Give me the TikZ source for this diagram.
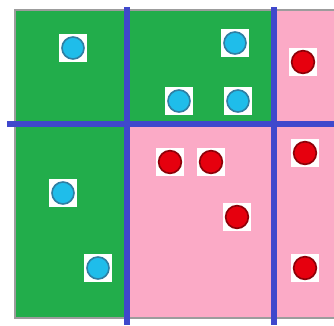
\documentclass[tikz,border=0pt]{standalone}
\usetikzlibrary{positioning}
\definecolor{FieldGreen}{HTML}{22AD4B}
\definecolor{FieldPink}{HTML}{FBAAC6}
\definecolor{SplitBlue}{HTML}{3F48CC}
\definecolor{FrameGray}{HTML}{9C9C9C}
\definecolor{SkyFill}{HTML}{1FBDEA}
\definecolor{SkyRim}{HTML}{2F7FA3}
\definecolor{RubyFill}{HTML}{E6000E}
\definecolor{RubyRim}{HTML}{8E0008}
\tikzset{
  frame/.style={draw=FrameGray, line width=1.6pt},
  split/.style={draw=SplitBlue, line width=5.8pt},
  spot/.style={rectangle, fill=white, draw=none, minimum size=0.82cm, inner sep=0pt},
  skyspot/.style={spot, path picture={
      \draw[fill=SkyFill, draw=SkyRim, line width=1.4pt]
        (path picture bounding box.center) circle (0.33cm);}},
  rubyspot/.style={spot, path picture={
      \draw[fill=RubyFill, draw=RubyRim, line width=1.4pt]
        (path picture bounding box.center) circle (0.34cm);}},
}
\begin{document}
\begin{tikzpicture}[x=0.03cm,y=-0.03cm]
  \useasboundingbox (0,0) rectangle (334,325);
  % Coloured regions
  \fill[FieldPink] (15,10) rectangle (334,318);
  \fill[FieldGreen] (15,10) rectangle (127,318);
  \fill[FieldGreen] (127,10) rectangle (274,124);
  % Outer frame, open on the right
  \draw[frame] (334,10) -- (15,10) -- (15,318) -- (334,318);
  % Splitting lines
  \draw[split] (127,7) -- (127,325);
  \draw[split] (274,7) -- (274,325);
  \draw[split] (7,124) -- (334,124);
  % Blue points
  \node[skyspot] (b1) at (73,48) {};
  \node[skyspot] (b2) at (235,43) {};
  \node[skyspot] (b3) at (179,101) {};
  \node[skyspot] (b4) at (238,101) {};
  \node[skyspot] (b5) at (63,193) {};
  \node[skyspot] (b6) at (98,268) {};
  % Red points
  \node[rubyspot] (r1) at (303,62) {};
  \node[rubyspot] (r2) at (170,162) {};
  \node[rubyspot] (r3) at (211,162) {};
  \node[rubyspot] (r4) at (237,217) {};
  \node[rubyspot] (r5) at (305,153) {};
  \node[rubyspot] (r6) at (305,268) {};
\end{tikzpicture}
\end{document}
